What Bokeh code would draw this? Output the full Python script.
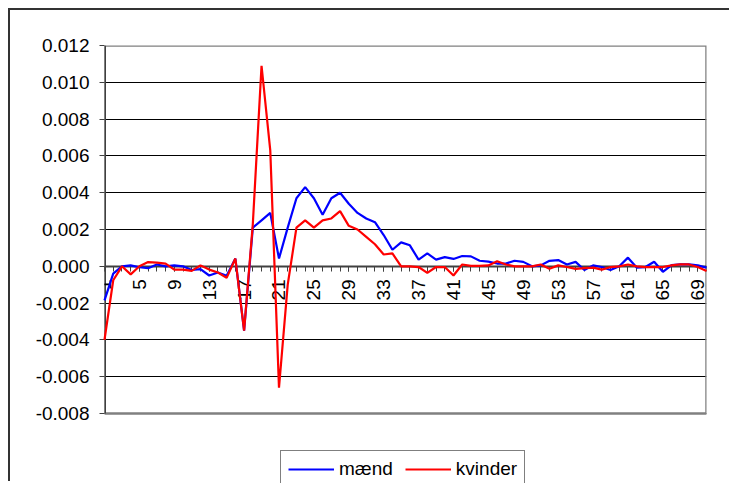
from math import pi
from bokeh.plotting import figure
from bokeh.models import Range1d, FixedTicker, PrintfTickFormatter, Legend, LegendItem
from bokeh.embed import file_html
from bokeh.resources import INLINE

categories = list(range(1, 71))
tick_categories = list(range(1, 71, 4))

maend = [-0.00185, -0.0004, 0.0, 0.00005, -0.00005, -0.0001, 0.0001, 0.0, 0.00005, 0.0,
         -0.0002, -0.00015, -0.0005, -0.00034, -0.00052, 0.00042, -0.0035, 0.0021, 0.0025, 0.0029,
         0.00042, 0.0021, 0.0037, 0.0043, 0.0037, 0.0028, 0.0037, 0.0040, 0.0034, 0.0029,
         0.0026, 0.0024, 0.0017, 0.0009, 0.0013, 0.00114, 0.00036, 0.0007, 0.00036, 0.0005,
         0.0004, 0.00056, 0.00054, 0.0003, 0.00025, 0.00015, 0.00015, 0.0003, 0.00024, 0.0,
         0.00005, 0.0003, 0.00034, 0.0001, 0.00024, -0.0002, 0.00005, -0.00004, -0.0002, 0.0,
         0.00047, -0.00007, -0.00004, 0.00025, -0.0003, 0.00007, 0.0001, 0.0001, 0.00005, -0.00007]

kvinder = [-0.004, -0.00076, 0.0, -0.00044, 0.0, 0.00023, 0.0002, 0.00015, -0.00018, -0.00018,
           -0.00025, 0.00005, -0.00018, -0.00034, -0.00063, 0.00042, -0.0035, 0.0023, 0.0109, 0.0063,
           -0.0066, -0.001, 0.0021, 0.0025, 0.0021, 0.0025, 0.0026, 0.0030, 0.0022, 0.0020,
           0.0016, 0.0012, 0.00064, 0.0007, 0.0, 0.0, -0.00004, -0.00036, -0.00004, -0.00004,
           -0.0005, 0.0001, 0.00002, 0.00002, 0.00005, 0.00027, 0.0001, 0.0, 0.0, 0.0,
           0.0001, -0.00013, 0.00005, -0.00004, -0.00014, -0.0001, -0.00007, -0.00018, -0.00004, 0.0,
           0.0001, 0.0, -0.00004, -0.00004, -0.00004, 0.00005, 0.0001, 0.0001, -0.00004, -0.00025]

y_ticks = [-0.008, -0.006, -0.004, -0.002, 0.0, 0.002, 0.004, 0.006, 0.008, 0.010, 0.012]

FONT = "Liberation Sans"
FS = "19px"

# layout (pixels)
CANVAS_W, CANVAS_H = 721, 473
BORDER_L, BORDER_T, BORDER_R = 94, 35, 25
AXIS_PX = 368          # pixel height of the value axis (-0.008 .. 0.012)
FRAME_H = CANVAS_H - BORDER_T
y_min, y_max = y_ticks[0], y_ticks[-1]
y_low = y_max - (y_max - y_min) * FRAME_H / AXIS_PX   # frame extends below the plot area for the legend
x_min, x_max = categories[0], categories[-1]

p = figure(width=CANVAS_W, height=CANVAS_H, output_backend="svg", toolbar_location=None,
           x_range=Range1d(x_min, x_max), y_range=Range1d(y_low, y_max),
           min_border_left=BORDER_L, min_border_right=BORDER_R, min_border_top=BORDER_T,
           min_border_bottom=0)
p.styles = {"margin-left": "8px", "margin-top": "8px",
            "border-left": "2px solid #333333", "border-top": "2px solid #333333"}
p.background_fill_color = "white"
p.border_fill_color = "white"
p.outline_line_color = None

# y axis (line drawn separately so it stops at the plot area)
p.yaxis.ticker = FixedTicker(ticks=y_ticks)
p.yaxis.formatter = PrintfTickFormatter(format="%.3f")
p.yaxis.major_label_text_font = FONT
p.yaxis.major_label_text_font_size = FS
p.yaxis.major_label_text_color = "black"
p.yaxis.axis_line_color = None
p.yaxis.major_tick_line_color = "#404040"
p.yaxis.major_tick_in = 0
p.yaxis.major_tick_out = 5
p.yaxis.minor_tick_line_color = None
p.yaxis.major_label_standoff = 10

# x axis at zero
p.xaxis.fixed_location = 0
p.xaxis.ticker = FixedTicker(ticks=tick_categories, minor_ticks=categories)
p.xaxis.major_label_orientation = pi / 2
p.xaxis.major_label_text_font = FONT
p.xaxis.major_label_text_font_size = FS
p.xaxis.major_label_text_color = "black"
p.xaxis.axis_line_color = "#404040"
p.xaxis.axis_line_width = 2
p.xaxis.major_tick_line_color = "#404040"
p.xaxis.minor_tick_line_color = "#404040"
p.xaxis.major_tick_in = 0
p.xaxis.major_tick_out = 5
p.xaxis.minor_tick_in = 0
p.xaxis.minor_tick_out = 5
p.xaxis.major_label_standoff = 8

p.xgrid.grid_line_color = None
p.ygrid.ticker = FixedTicker(ticks=y_ticks)
p.ygrid.grid_line_color = "black"
p.ygrid.grid_line_width = 1

# plot-area border and value axis line
p.quad(left=[x_min], right=[x_max], bottom=[y_min], top=[y_max],
       fill_color=None, line_color="#808080", line_width=2.5)
p.segment(x0=[x_min], y0=[y_min], x1=[x_min], y1=[y_max], line_color="#404040", line_width=3)

r1 = p.line(categories, maend, line_color="#0000FF", line_width=2.2, level="overlay")
r2 = p.line(categories, kvinder, line_color="#FF0000", line_width=2.2, level="overlay")

legend = Legend(items=[LegendItem(label="mænd", renderers=[r1]),
                       LegendItem(label="kvinder", renderers=[r2])],
                orientation="horizontal", location=(176, -5))
legend.label_text_font = FONT
legend.label_text_font_size = FS
legend.label_text_color = "black"
legend.glyph_width = 46
legend.glyph_height = 20
legend.label_standoff = 5
legend.spacing = 12
legend.padding = 7
legend.margin = 0
legend.border_line_color = "black"
legend.border_line_width = 1
legend.background_fill_color = "white"
legend.background_fill_alpha = 1
p.add_layout(legend, "center")

open("out.html", "w").write(file_html(p, INLINE))
